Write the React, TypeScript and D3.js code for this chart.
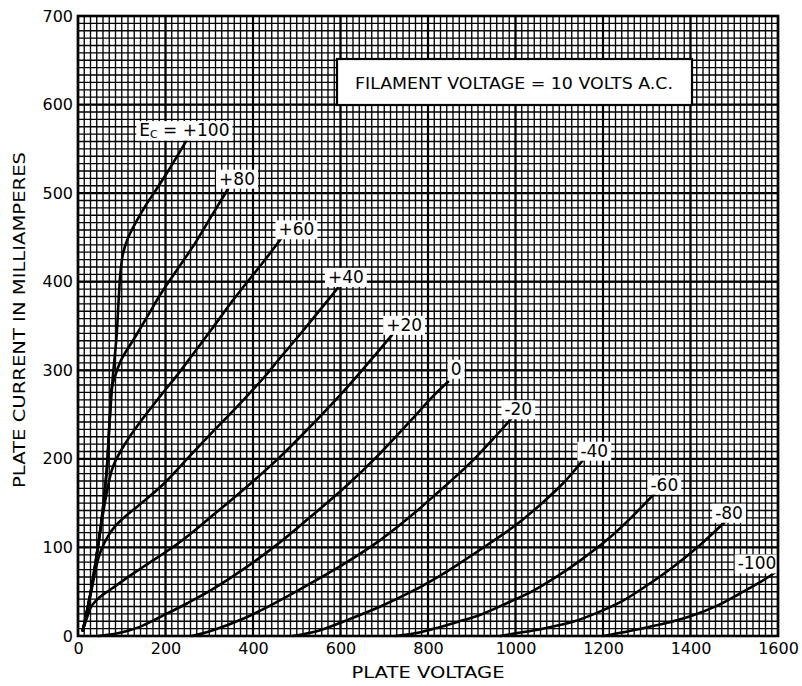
import React, { useEffect, useRef } from 'react';
import * as d3 from 'd3';

type Pt = [number, number];

const xTickValues = [0, 200, 400, 600, 800, 1000, 1200, 1400, 1600];
const yTickValues = [0, 100, 200, 300, 400, 500, 600, 700];

const xTitle = 'PLATE VOLTAGE';
const yTitle = 'PLATE CURRENT IN MILLIAMPERES';
const noteText = 'FILAMENT VOLTAGE = 10 VOLTS A.C.';

const gridVoltages = ['+100', '+80', '+60', '+40', '+20', '0', '-20', '-40', '-60', '-80', '-100'];

const ec100: Pt[] = [[11, 6], [30, 52], [50, 116], [65, 183], [72, 240], [80, 295], [88, 337], [93, 380], [97, 410], [103, 432], [114, 449], [130, 465], [152, 484], [180, 505], [206, 525], [250, 561]];
const ec80: Pt[] = [[11, 6], [30, 52], [50, 116], [65, 183], [72, 240], [77, 280], [84, 292], [99, 312], [130, 337], [160, 362], [190, 387], [230, 416], [267, 443], [305, 474], [343, 505]];
const ec60: Pt[] = [[11, 6], [30, 52], [50, 116], [62, 152], [69, 170], [76, 185], [84, 196], [99, 210], [114, 222], [152, 248], [190, 272], [229, 296], [267, 321], [305, 346], [354, 379], [381, 396], [420, 420], [465, 449]];
const ec40: Pt[] = [[11, 6], [30, 50], [45, 85], [53, 97], [69, 113], [85, 124], [99, 131], [140, 148], [190, 169], [259, 205], [305, 229], [360, 257], [427, 293], [457, 311], [520, 348], [571, 379], [594, 393]];
const ec20: Pt[] = [[11, 6], [20, 20], [30, 33], [50, 44], [76, 53], [110, 65], [152, 79], [230, 105], [305, 135], [380, 166], [457, 200], [530, 236], [610, 278], [670, 312], [718, 340]];
const ec0: Pt[] = [[46, 0], [91, 3], [140, 10], [190, 22], [250, 37], [305, 52], [380, 76], [457, 104], [530, 134], [610, 168], [690, 206], [762, 244], [810, 270], [846, 287]];
const ecm20: Pt[] = [[260, 0], [305, 6], [380, 20], [457, 39], [530, 59], [610, 82], [690, 108], [762, 136], [827, 164], [870, 183], [910, 202], [950, 223], [995, 248]];
const ecm40: Pt[] = [[490, 0], [550, 6], [610, 17], [690, 33], [762, 50], [827, 68], [869, 81], [942, 105], [1000, 125], [1056, 148], [1110, 173], [1155, 199]];
const ecm60: Pt[] = [[725, 0], [780, 4], [827, 10], [869, 16], [920, 24], [980, 37], [1040, 51], [1094, 67], [1150, 86], [1208, 108], [1265, 134], [1322, 163]];
const ecm80: Pt[] = [[965, 0], [1000, 3], [1060, 8], [1131, 16], [1190, 27], [1246, 40], [1300, 57], [1360, 78], [1420, 102], [1479, 129]];
const ecm100: Pt[] = [[1200, 0], [1284, 8], [1340, 14], [1398, 22], [1460, 34], [1513, 48], [1560, 61], [1600, 74]];

const curves: Pt[][] = [ec100, ec80, ec60, ec40, ec20, ec0, ecm20, ecm40, ecm60, ecm80, ecm100];

// label centre offsets (px) from each curve's end point
const labelOffsets: Record<string, [number, number]> = {
  '+100': [-3, -9], '+80': [9, -10], '+60': [15, -9], '+40': [8, -11], '+20': [12, -10],
  '0': [8, -13], '-20': [5, -7], '-40': [11, -9], '-60': [8, -7], '-80': [4, -9], '-100': [-21, -7],
};

const INK = '#000';
const FONT = '"DejaVu Sans", "Liberation Sans", sans-serif';

export default function App() {
  const ref = useRef<SVGSVGElement>(null);

  useEffect(() => {
    const svg = d3.select(ref.current as SVGSVGElement);
    svg.selectAll('*').remove();

    const x = d3.scaleLinear().domain([0, 1600]).range([78, 778]);
    const y = d3.scaleLinear().domain([0, 700]).range([636, 16]);

    svg.append('rect').attr('width', 802).attr('height', 686).attr('fill', '#fff');

    const grid = svg.append('g');
    const vMinor = d3.range(0, 113).map((i) => (i * 1600) / 112);
    const hMinor = d3.range(0, 85).map((i) => (i * 700) / 84);
    grid.selectAll('line.vm').data(vMinor).enter().append('line')
      .attr('x1', (d) => x(d)).attr('x2', (d) => x(d)).attr('y1', y(0)).attr('y2', y(700))
      .attr('stroke', INK).attr('stroke-width', 1.35);
    grid.selectAll('line.hm').data(hMinor).enter().append('line')
      .attr('y1', (d) => y(d)).attr('y2', (d) => y(d)).attr('x1', x(0)).attr('x2', x(1600))
      .attr('stroke', INK).attr('stroke-width', 1.35);
    grid.selectAll('line.vM').data(xTickValues).enter().append('line')
      .attr('x1', (d) => x(d)).attr('x2', (d) => x(d)).attr('y1', y(0)).attr('y2', y(700))
      .attr('stroke', INK).attr('stroke-width', 2.2);
    grid.selectAll('line.hM').data(yTickValues).enter().append('line')
      .attr('y1', (d) => y(d)).attr('y2', (d) => y(d)).attr('x1', x(0)).attr('x2', x(1600))
      .attr('stroke', INK).attr('stroke-width', 2.2);

    const line = d3.line<Pt>().x((d) => x(d[0])).y((d) => y(d[1])).curve(d3.curveCatmullRom.alpha(0.5));
    svg.append('g').selectAll('path').data(curves).enter().append('path')
      .attr('d', (d) => line(d) as string)
      .attr('fill', 'none').attr('stroke', INK).attr('stroke-width', 2.6)
      .attr('stroke-linecap', 'round').attr('stroke-linejoin', 'round');

    // curve labels
    const lab = svg.append('g');
    gridVoltages.forEach((name, i) => {
      const pts = curves[i];
      const end = pts[pts.length - 1];
      const off = labelOffsets[name];
      const cx = x(end[0]) + off[0];
      const cy = y(end[1]) + off[1];
      const g = lab.append('g');
      const rect = g.append('rect').attr('fill', '#fff');
      const t = g.append('text').attr('x', cx).attr('y', cy)
        .attr('text-anchor', 'middle').attr('dominant-baseline', 'central')
        .attr('font-family', FONT).attr('font-size', 17).attr('fill', INK);
      if (i === 0) {
        t.append('tspan').text('E');
        t.append('tspan').attr('font-size', 11).attr('dy', 4).text('C');
        t.append('tspan').attr('dy', -4).text(' = ' + name);
      } else {
        t.text(name);
      }
      const bb = (t.node() as SVGTextElement).getBBox();
      rect.attr('x', bb.x - 3).attr('y', bb.y + 1).attr('width', bb.width + 6).attr('height', bb.height - 1);
    });

    // note box
    const note = svg.append('g');
    note.append('rect').attr('x', 337).attr('y', 59).attr('width', 355).attr('height', 46)
      .attr('fill', '#fff').attr('stroke', INK).attr('stroke-width', 2.2);
    note.append('text').attr('x', 514).attr('y', 89).attr('text-anchor', 'middle')
      .attr('font-family', FONT).attr('font-size', 15.5).attr('fill', INK)
      .attr('textLength', 318).attr('lengthAdjust', 'spacingAndGlyphs').text(noteText);

    // frame
    svg.append('rect').attr('x', x(0)).attr('y', y(700)).attr('width', x(1600) - x(0)).attr('height', y(0) - y(700))
      .attr('fill', 'none').attr('stroke', INK).attr('stroke-width', 2.6);

    // axes (labels only)
    const xAxis = svg.append('g').attr('transform', `translate(0,${y(0)})`)
      .call(d3.axisBottom(x).tickValues(xTickValues).tickSize(0).tickPadding(7).tickFormat(d3.format('d')));
    xAxis.select('.domain').remove();
    xAxis.selectAll('text').attr('font-family', FONT).attr('font-size', 16).attr('fill', INK);

    const yAxis = svg.append('g').attr('transform', `translate(${x(0)},0)`)
      .call(d3.axisLeft(y).tickValues(yTickValues).tickSize(0).tickPadding(5).tickFormat(d3.format('d')));
    yAxis.select('.domain').remove();
    yAxis.selectAll('text').attr('font-family', FONT).attr('font-size', 16).attr('fill', INK);

    svg.append('text').attr('x', 428).attr('y', 678).attr('text-anchor', 'middle')
      .attr('font-family', FONT).attr('font-size', 15).attr('fill', INK)
      .attr('textLength', 153).attr('lengthAdjust', 'spacingAndGlyphs').text(xTitle);

    svg.append('text').attr('transform', 'translate(25,320) rotate(-90)').attr('text-anchor', 'middle')
      .attr('font-family', FONT).attr('font-size', 15).attr('fill', INK)
      .attr('textLength', 336).attr('lengthAdjust', 'spacingAndGlyphs').text(yTitle);
  }, []);

  return (
    <svg ref={ref} width={802} height={686} style={{ position: 'absolute', left: 0, top: 0, display: 'block' }} />
  );
}
